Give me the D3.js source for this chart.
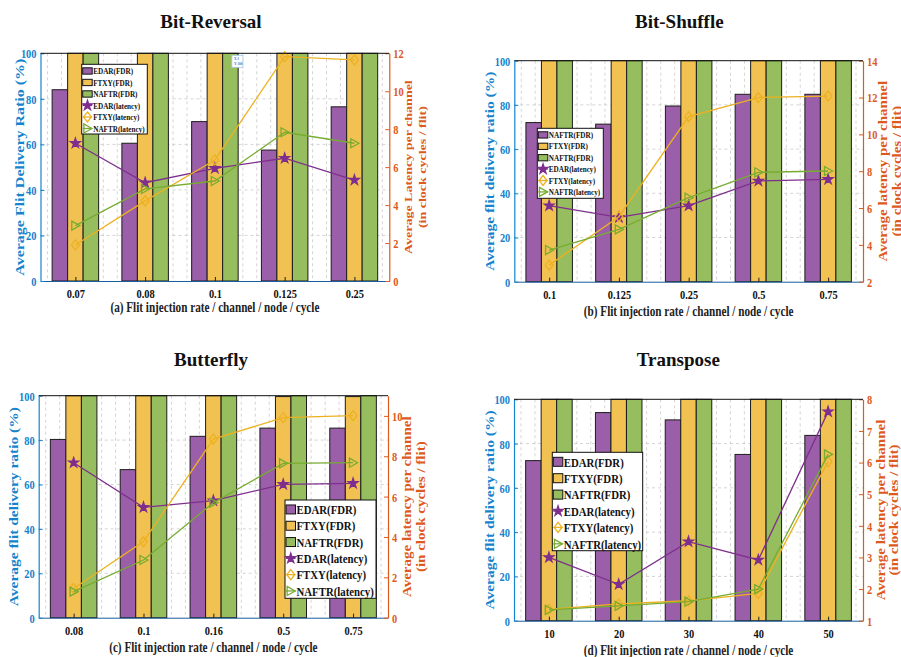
<!DOCTYPE html>
<html>
<head>
<meta charset="utf-8">
<script src="https://cdn.jsdelivr.net/npm/d3@7"></script>
<style>
  body { margin: 0; background: #fff; }
  svg { display: block; }
  text { font-family: "Liberation Serif", "Times New Roman", serif; font-weight: bold; }
</style>
</head>
<body>
<svg id="fig" width="901" height="657"></svg>
<script>
// values
const brRates = ["0.07", "0.08", "0.1", "0.125", "0.25"]
const brEdarFdr = [84, 60.5, 70, 57.5, 76.5]
const brFtxyFdr = [100, 100, 100, 100, 100]
const brNaftrFdr = [100, 100, 100, 100, 100]
const brEdarLat = [7.26, 5.18, 5.94, 6.47, 5.32]
const brFtxyLat = [1.9, 4.22, 6.38, 11.82, 11.65]
const brNaftrLat = [2.92, 4.85, 5.27, 7.84, 7.26]

const bsRates = ["0.1", "0.125", "0.25", "0.5", "0.75"]
const bsEdarFdr = [72, 71.3, 79.5, 84.8, 84.8]
const bsFtxyFdr = [100, 100, 100, 100, 100]
const bsNaftrFdr = [100, 100, 100, 100, 100]
const bsEdarLat = [6.13, 5.49, 6.13, 7.47, 7.56]
const bsFtxyLat = [2.9, 5.53, 10.96, 12.0, 12.08]
const bsNaftrLat = [3.72, 4.84, 6.56, 7.94, 8.01]

const bfRates = ["0.08", "0.1", "0.16", "0.5", "0.75"]
const bfEdarFdr = [80.3, 66.7, 81.7, 85.4, 85.4]
const bfFtxyFdr = [100, 100, 100, 99.6, 99.6]
const bfNaftrFdr = [100, 100, 100, 100, 100]
const bfEdarLat = [7.68, 5.47, 5.8, 6.61, 6.66]
const bfFtxyLat = [1.45, 3.77, 8.85, 9.91, 10.01]
const bfNaftrLat = [1.29, 2.86, 5.7, 7.65, 7.68]

const trRates = ["10", "20", "30", "40", "50"]
const trEdarFdr = [72.3, 94, 90.7, 75.1, 83.7]
const trFtxyFdr = [100, 100, 100, 100, 100]
const trNaftrFdr = [100, 100, 100, 100, 100]
const trEdarLat = [3.0, 2.15, 3.5, 2.92, 7.61]
const trFtxyLat = [1.36, 1.53, 1.63, 1.86, 6.03]
const trNaftrLat = [1.34, 1.47, 1.6, 2.0, 6.26]

const fdrTicks = [0, 20, 40, 60, 80, 100]
const legendStd = ["EDAR(FDR)", "FTXY(FDR)", "NAFTR(FDR)", "EDAR(latency)", "FTXY(latency)", "NAFTR(latency)"]
const legendBs = ["NAFTR(FDR)", "FTXY(FDR)", "NAFTR(FDR)", "EDAR(latency)", "FTXY(latency)", "NAFTR(latency)"]

const panels = [
  { rates: brRates, fdr: [brEdarFdr, brFtxyFdr, brNaftrFdr], lat: [brEdarLat, brFtxyLat, brNaftrLat],
    left: 40.5, right: 389.3, top: 53.3, bottom: 281, rDomain: [0, 12], rTicks: d3.range(0, 13, 2),
    title: "Bit-Reversal", titleX: 211, titleY: 28,
    yLabel: "Average Flit Delivery Ratio (%)", yLabelX: 20, yLabelSize: 16,
    rLabel: ["Average Latency per channel", "(in clock cycles / flit)"], rLabelX: [408, 421.7], rLabelSize: 14,
    xLabel: "(a) Flit injection rate / channel / node / cycle", xLabelDy: 30.5,
    legend: { x: 81.7, y: 64.3, w: 65.6, h: 69.7, row: 11.5, fs: 9, labels: legendStd }, tip: true },
  { rates: bsRates, fdr: [bsEdarFdr, bsFtxyFdr, bsNaftrFdr], lat: [bsEdarLat, bsFtxyLat, bsNaftrLat],
    left: 514.3, right: 863, top: 60.7, bottom: 281.7, rDomain: [2, 14], rTicks: d3.range(2, 15, 2),
    title: "Bit-Shuffle", titleX: 679.3, titleY: 27.7,
    yLabel: "Average flit delivery ratio (%)", yLabelX: 490, yLabelSize: 15.5,
    rLabel: ["Average latency per channel", "(in clock cycles / flit)"], rLabelX: [883.3, 896.7], rLabelSize: 15,
    xLabel: "(b) Flit injection rate / channel / node / cycle", xLabelDy: 34.5,
    legend: { x: 537.3, y: 128.3, w: 66, h: 70, row: 11.4, fs: 9, labels: legendBs } },
  { rates: bfRates, fdr: [bfEdarFdr, bfFtxyFdr, bfNaftrFdr], lat: [bfEdarLat, bfFtxyLat, bfNaftrLat],
    left: 38.7, right: 388, top: 395.7, bottom: 617.7, rDomain: [0, 11], rTicks: d3.range(0, 11, 2),
    title: "Butterfly", titleX: 211, titleY: 366,
    yLabel: "Average flit delivery ratio (%)", yLabelX: 14, yLabelSize: 15.5,
    rLabel: ["Average latency per channel", "(in clock cycles / flit)"], rLabelX: [406.7, 420.7], rLabelSize: 15,
    xLabel: "(c) Flit injection rate / channel / node / cycle", xLabelDy: 34,
    legend: { x: 285, y: 500, w: 91, h: 98.3, row: 16.3, fs: 13.5, labels: legendStd } },
  { rates: trRates, fdr: [trEdarFdr, trFtxyFdr, trNaftrFdr], lat: [trEdarLat, trFtxyLat, trNaftrLat],
    left: 514, right: 863, top: 399.3, bottom: 620.7, rDomain: [1, 8], rTicks: d3.range(1, 9, 1),
    title: "Transpose", titleX: 678.3, titleY: 366,
    yLabel: "Average flit delivery ratio (%)", yLabelX: 489.3, yLabelSize: 15.5,
    rLabel: ["Average latency per channel", "(in clock cycles / flit)"], rLabelX: [880.7, 894.3], rLabelSize: 15,
    xLabel: "(d) Flit injection rate / channel / node / cycle", xLabelDy: 34.3,
    legend: { x: 552.3, y: 452.3, w: 90.4, h: 98.4, row: 16.4, fs: 13.5, labels: legendStd } }
]

const barFill = ["#9b5fa9", "#f1c152", "#97be5e"]
const lineColor = ["#7e2f8e", "#edb120", "#77ac30"]
const leftColor = "#1683cd"
const rightColor = "#dd5a1c"
const gridColor = "#c9c9c9"
const SQ = 0.8 // the figure text looks horizontally squeezed
const fmt = d3.format("d")

const diamond = { draw(ctx, r) { const w = r * 0.78; ctx.moveTo(0, -r); ctx.lineTo(w, 0); ctx.lineTo(0, r); ctx.lineTo(-w, 0); ctx.closePath() } }
const triRight = { draw(ctx, r) { ctx.moveTo(r, 0); ctx.lineTo(-r * 0.8, -r); ctx.lineTo(-r * 0.8, r); ctx.closePath() } }
const markers = [
  d3.symbol().type(d3.symbolStar).size(30),
  d3.symbol().type(diamond).size(5),
  d3.symbol().type(triRight).size(4.5)
]
const markerFill = [lineColor[0], "none", "none"]

const svg = d3.select("#fig")

const drawMarker = (g, k, cx, cy) => {
  g.append("path")
    .attr("d", markers[k]())
    .attr("transform", `translate(${cx},${cy})`)
    .attr("fill", markerFill[k])
    .attr("stroke", lineColor[k])
    .attr("stroke-width", 1.3)
}

panels.forEach(p => {
  const g = svg.append("g")
  const x = d3.scaleLinear().domain([0.5, 5.5]).range([p.left, p.right])
  const yL = d3.scaleLinear().domain([0, 100]).range([p.bottom, p.top])
  const yR = d3.scaleLinear().domain(p.rDomain).range([p.bottom, p.top])

  // grid: major + minor verticals, major horizontals
  const grid = g.append("g").attr("stroke", gridColor).attr("stroke-dasharray", "3,3").attr("stroke-width", 0.8)
  grid.selectAll("line.v")
    .data(d3.range(0.6, 5.45, 0.2))
    .join("line")
    .attr("x1", d => x(d)).attr("x2", d => x(d))
    .attr("y1", p.top).attr("y2", p.bottom)
  grid.selectAll("line.h")
    .data(fdrTicks.slice(1, -1))
    .join("line")
    .attr("class", "h")
    .attr("x1", p.left).attr("x2", p.right)
    .attr("y1", d => yL(d)).attr("y2", d => yL(d))

  // grouped bars
  const bw = x(1 + 2 / 9) - x(1)
  p.fdr.forEach((series, k) => {
    g.append("g").selectAll("rect")
      .data(series)
      .join("rect")
      .attr("x", (d, i) => x(i + 1 + (k - 1) * 2 / 9 - 1 / 9))
      .attr("width", bw)
      .attr("y", d => yL(d))
      .attr("height", d => p.bottom - yL(d))
      .attr("fill", barFill[k])
      .attr("stroke", "#1c1c1c")
      .attr("stroke-width", 1)
  })

  // latency lines on right axis
  const line = d3.line().x((d, i) => x(i + 1)).y(d => yR(d))
  p.lat.forEach((series, k) => {
    g.append("path")
      .datum(series)
      .attr("d", line)
      .attr("fill", "none")
      .attr("stroke", lineColor[k])
      .attr("stroke-width", 1.3)
    series.forEach((d, i) => drawMarker(g, k, x(i + 1), yR(d)))
  })

  // axes
  const ax = g.append("g").attr("transform", `translate(0,${p.bottom})`)
    .call(d3.axisBottom(x).tickValues([1, 2, 3, 4, 5]).tickFormat(i => p.rates[i - 1]).tickSize(-4).tickSizeOuter(0))
  ax.select(".domain").attr("stroke", "#1b5e9e")
  ax.selectAll(".tick line").attr("stroke", "#222")
  ax.selectAll(".tick text")
    .attr("y", null).attr("dy", null)
    .attr("fill", "#111").attr("font-size", 13)
    .attr("transform", `translate(0,17) scale(${SQ},1)`)

  const al = g.append("g").attr("transform", `translate(${p.left},0)`)
    .call(d3.axisLeft(yL).tickValues(fdrTicks).tickFormat(fmt).tickSize(-4).tickSizeOuter(0))
  al.select(".domain").attr("stroke", leftColor).attr("stroke-width", 1.2)
  al.selectAll(".tick line").attr("stroke", leftColor)
  al.selectAll(".tick text")
    .attr("x", null).attr("dy", "0.34em")
    .attr("fill", leftColor).attr("font-size", 13)
    .attr("transform", `translate(-4,0) scale(${SQ},1)`)

  const ar = g.append("g").attr("transform", `translate(${p.right},0)`)
    .call(d3.axisRight(yR).tickValues(p.rTicks).tickFormat(fmt).tickSize(-4).tickSizeOuter(0))
  ar.select(".domain").attr("stroke", rightColor).attr("stroke-width", 1.2)
  ar.selectAll(".tick line").attr("stroke", rightColor)
  ar.selectAll(".tick text")
    .attr("x", null).attr("dy", "0.34em")
    .attr("fill", rightColor).attr("font-size", 13)
    .attr("transform", `translate(4,0) scale(${SQ},1)`)

  g.append("line")
    .attr("x1", p.left).attr("x2", p.right)
    .attr("y1", p.top).attr("y2", p.top)
    .attr("stroke", "#111").attr("stroke-width", 1)

  // titles and labels
  g.append("text")
    .attr("x", p.titleX).attr("y", p.titleY)
    .attr("text-anchor", "middle").attr("font-size", 19).attr("fill", "#111")
    .text(p.title)

  g.append("text")
    .attr("transform", `translate(${(p.left + p.right) / 2},${p.bottom + p.xLabelDy}) scale(${SQ},1)`)
    .attr("text-anchor", "middle").attr("font-size", 14).attr("fill", "#222")
    .text(p.xLabel)

  const cy = (p.top + p.bottom) / 2
  g.append("text")
    .attr("transform", `translate(${p.yLabelX},${cy}) rotate(-90) scale(1,${SQ})`)
    .attr("dy", "0.34em")
    .attr("text-anchor", "middle").attr("font-size", p.yLabelSize).attr("fill", leftColor)
    .text(p.yLabel)

  p.rLabel.forEach((t, j) => {
    g.append("text")
      .attr("transform", `translate(${p.rLabelX[j]},${cy}) rotate(-90) scale(1,${SQ})`)
      .attr("dy", "0.34em")
      .attr("text-anchor", "middle").attr("font-size", p.rLabelSize).attr("fill", rightColor)
      .text(t)
  })

  // datatip left on the first panel
  if (p.tip) {
    const tx = x(3) + 17, ty = p.top + 2
    g.append("rect").attr("x", tx).attr("y", ty).attr("width", 11).attr("height", 12)
      .attr("fill", "#fff").attr("stroke", "#a9c8e8").attr("stroke-width", 0.8)
    g.append("text").attr("x", tx + 2).attr("y", ty + 5).attr("font-size", 3.5).attr("fill", "#4a7bbf").text("X 3")
    g.append("text").attr("x", tx + 2).attr("y", ty + 10).attr("font-size", 3.5).attr("fill", "#4a7bbf").text("Y 100")
  }

  // legend
  const L = p.legend
  const lg = g.append("g")
  lg.append("rect")
    .attr("x", L.x).attr("y", L.y).attr("width", L.w).attr("height", L.h)
    .attr("fill", "#fff").attr("stroke", "#111").attr("stroke-width", 1)
  L.labels.forEach((lab, i) => {
    const ry = L.y + L.row * 0.58 + i * L.row
    const px = L.x + 1, pw = 9.5
    if (i < 3) {
      const ph = L.row * 0.55
      lg.append("rect")
        .attr("x", px).attr("y", ry - ph / 2).attr("width", pw).attr("height", ph)
        .attr("fill", barFill[i]).attr("stroke", "#111").attr("stroke-width", 1)
    } else {
      const k = i - 3
      lg.append("line")
        .attr("x1", px).attr("x2", px + pw).attr("y1", ry).attr("y2", ry)
        .attr("stroke", lineColor[k]).attr("stroke-width", 1.3)
      drawMarker(lg, k, px + pw / 2, ry)
    }
    lg.append("text")
      .attr("transform", `translate(${L.x + 11.5},${ry}) scale(${SQ},1)`)
      .attr("dy", "0.35em").attr("font-size", L.fs).attr("fill", "#111")
      .text(lab)
  })
})
</script>
</body>
</html>
